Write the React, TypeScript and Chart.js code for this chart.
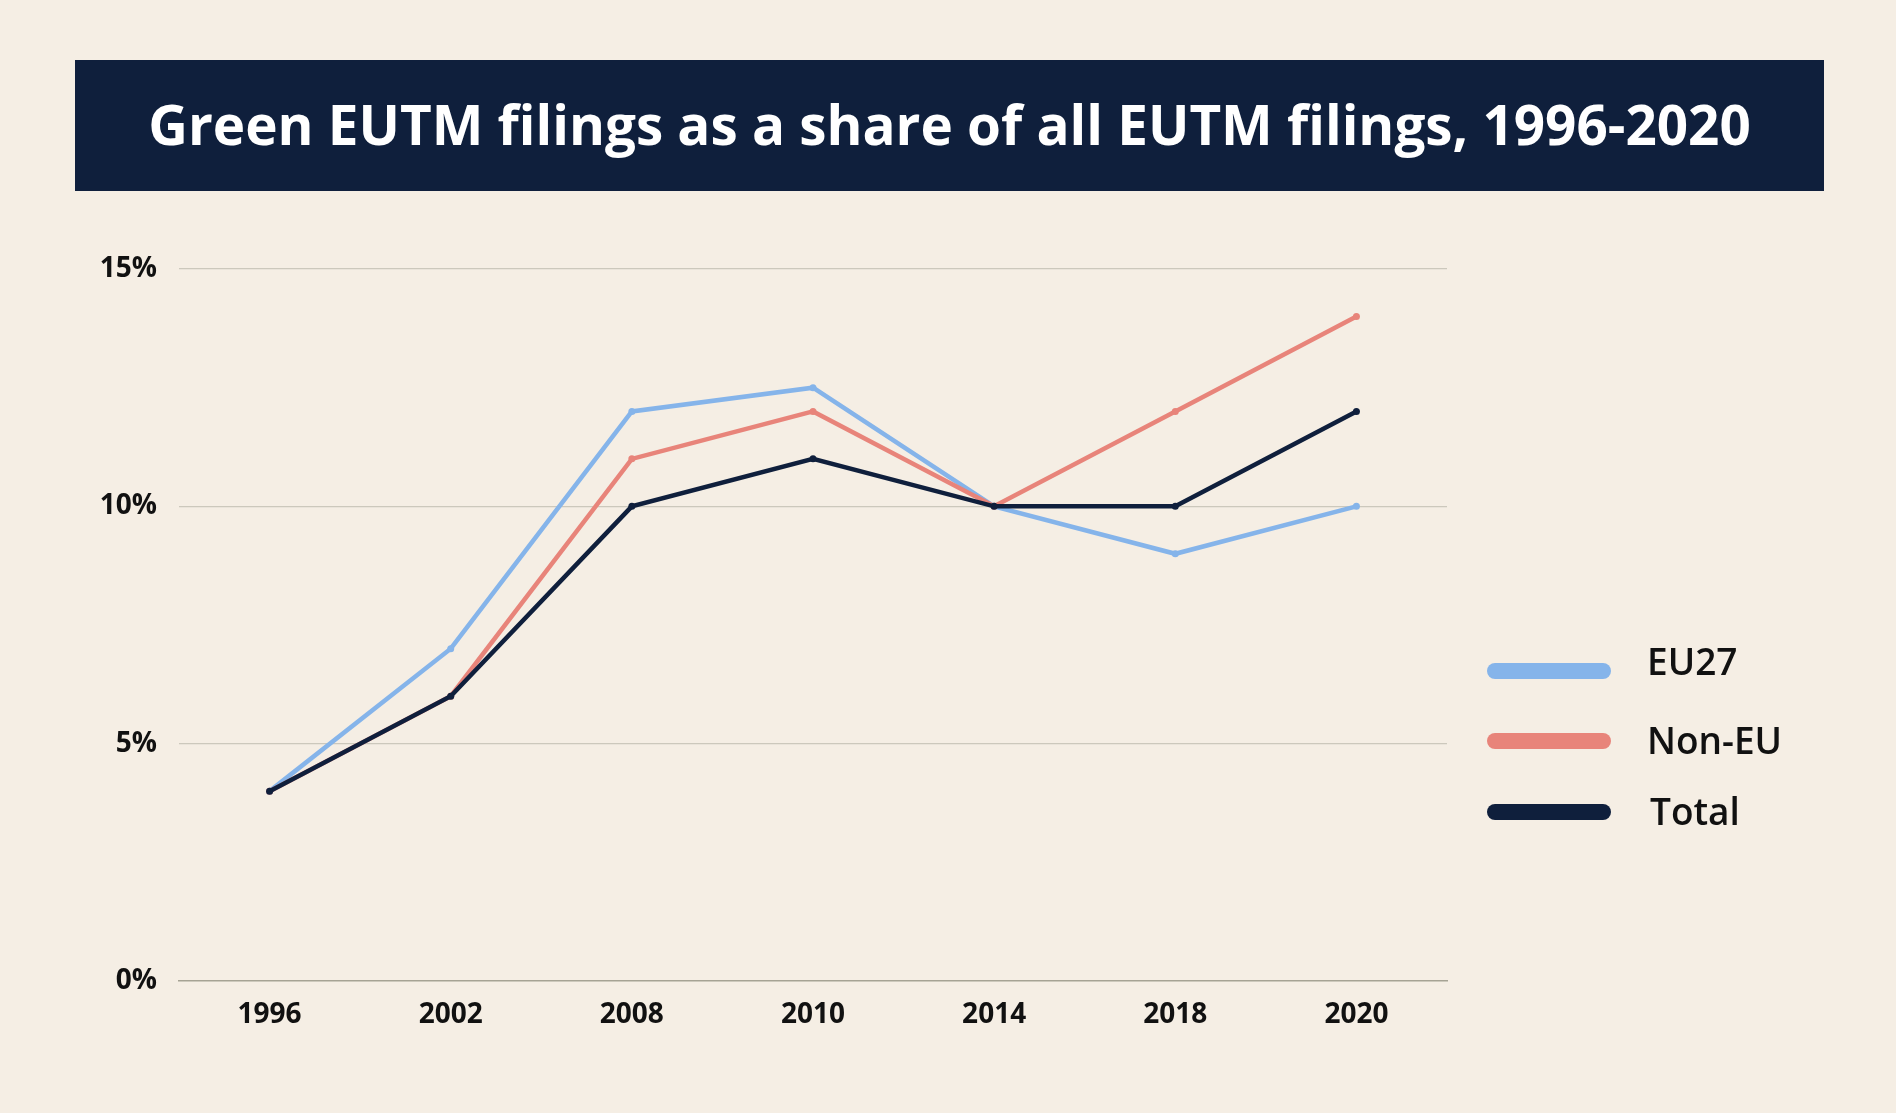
import React, { useEffect, useRef } from "react";
import { Chart, registerables } from "chart.js";

Chart.register(...registerables);

const TITLE = "Green EUTM filings as a share of all EUTM filings, 1996-2020";
const years = ["1996", "2002", "2008", "2010", "2014", "2018", "2020"];
const eu27 = [4, 7, 12, 12.5, 10, 9, 10];
const nonEu = [4, 6, 11, 12, 10, 12, 14];
const total = [4, 6, 10, 11, 10, 10, 12];
const yTicks = [0, 5, 10, 15];

const BG = "#F5EEE4";
const NAVY = "#0F1F3C";
const BLUE = "#85B4EA";
const RED = "#E8847A";

const series = [
  { label: "EU27", data: eu27, color: BLUE, order: 2 },
  { label: "Non-EU", data: nonEu, color: RED, order: 1 },
  { label: "Total", data: total, color: NAVY, order: 0 },
];

export default function App() {
  const ref = useRef<HTMLCanvasElement | null>(null);

  useEffect(() => {
    document.body.style.margin = "0";
    document.body.style.background = BG;
    const canvas = ref.current!;
    const chart = new Chart(canvas, {
      type: "line",
      data: {
        labels: years,
        datasets: series.map((s) => ({
          label: s.label,
          data: s.data,
          borderColor: s.color,
          backgroundColor: s.color,
          borderWidth: 4.5,
          pointRadius: 3.5,
          pointBackgroundColor: s.color,
          pointBorderWidth: 0,
          tension: 0,
          order: s.order,
        })),
      },
      options: {
        animation: false,
        responsive: false,
        maintainAspectRatio: false,
        layout: { padding: { left: 0, top: 269, right: 1896 - 1447, bottom: 0 } },
        plugins: { legend: { display: false }, tooltip: { enabled: false } },
        scales: {
          x: {
            offset: true,
            grid: { display: false, drawTicks: false },
            border: { display: true, color: "#A6A394", width: 1.5 },
            ticks: {
              color: "#111",
              padding: 17,
              font: { family: "'Open Sans'", size: 28, weight: 700 },
            },
            afterFit: (s: any) => {
              s.height = 1113 - 981;
            },
          },
          y: {
            min: 0,
            max: 15,
            afterBuildTicks: (s: any) => {
              s.ticks = yTicks.map((v) => ({ value: v }));
            },
            grid: {
              color: (ctx: any) => (ctx.tick && ctx.tick.value === 0 ? "rgba(0,0,0,0)" : "#CCC8BC"),
              lineWidth: 1.2,
              drawTicks: false,
            },
            border: { display: false },
            ticks: {
              color: "#111",
              padding: 22,
              font: { family: "'Open Sans'", size: 28, weight: 700 },
              callback: (v: any) => v + "%",
            },
            afterFit: (s: any) => {
              s.width = 179;
            },
          },
        },
      },
    });
    return () => chart.destroy();
  }, []);

  const legendTop = [671, 741, 812];
  const textTop = [661, 740, 811];

  return (
    <div
      style={{
        position: "absolute",
        left: 0,
        top: 0,
        width: 1896,
        height: 1113,
        background: BG,
        overflow: "hidden",
        fontFamily: "'Open Sans', sans-serif",
      }}
    >
      <div
        style={{
          position: "absolute",
          left: 75,
          top: 60,
          width: 1749,
          height: 131,
          boxSizing: "border-box",
          paddingBottom: 4,
          background: NAVY,
          color: "#fff",
          display: "flex",
          alignItems: "center",
          justifyContent: "center",
          fontSize: 54.8,
          fontWeight: 700,
          fontFamily: "'Open Sans', sans-serif",
        }}
      >
        {TITLE}
      </div>
      <canvas
        ref={ref}
        width={1896}
        height={1113}
        style={{ position: "absolute", left: 0, top: 0, width: 1896, height: 1113 }}
      />
      {series.map((s, i) => (
        <React.Fragment key={s.label}>
          <div
            style={{
              position: "absolute",
              left: 1487,
              top: legendTop[i] - 8,
              width: 124,
              height: 16,
              borderRadius: 8,
              background: s.color,
            }}
          />
          <div
            style={{
              position: "absolute",
              left: i === 2 ? 1650 : 1647,
              top: textTop[i] - 27,
              height: 54,
              lineHeight: "54px",
              fontSize: 37,
              fontWeight: 600,
              color: "#111",
              whiteSpace: "nowrap",
            }}
          >
            {s.label}
          </div>
        </React.Fragment>
      ))}
    </div>
  );
}
